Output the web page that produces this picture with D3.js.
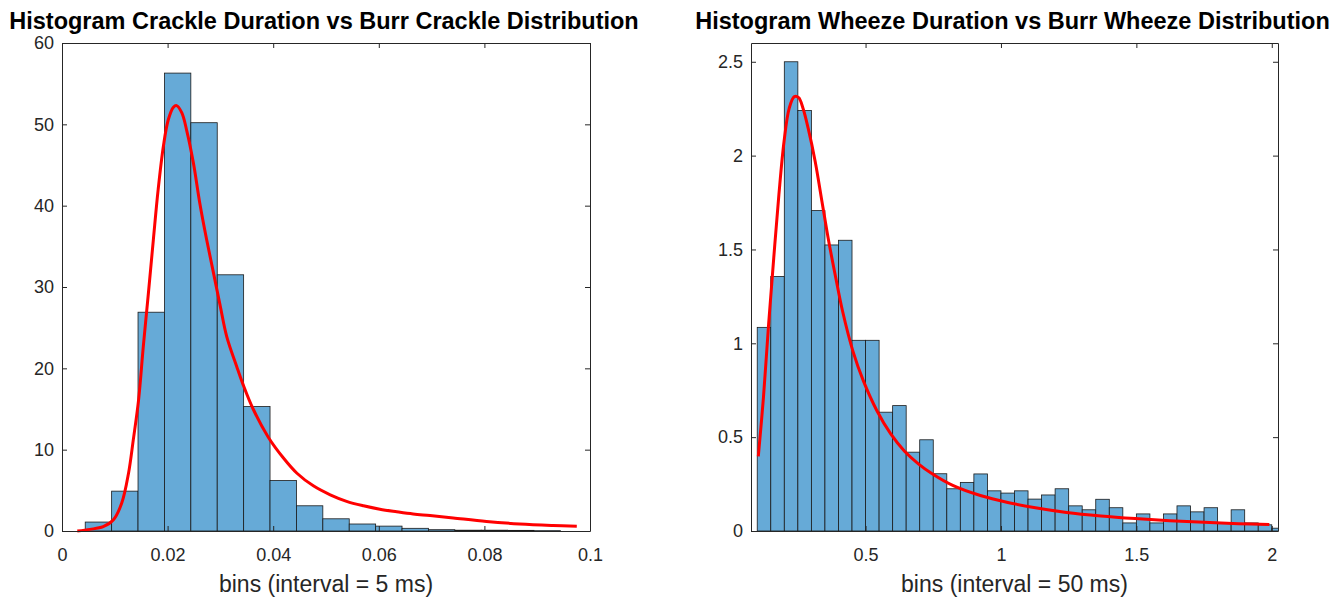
<!DOCTYPE html>
<html>
<head>
<meta charset="utf-8">
<script src="https://cdn.jsdelivr.net/npm/d3@7"></script>
<style>
  body { margin: 0; background: #fff; }
  svg { font-family: "Liberation Sans", Arial, Helvetica, sans-serif; }
</style>
</head>
<body>
<svg id="chart" width="1333" height="597"></svg>
<script>
// ---- crackle histogram (bin width 5 ms, first edge read at ~0.0044 s)
var crackleStart = 0.0044;
var crackleWidth = 0.005;
var crackleHeights = [1.1, 4.9, 26.9, 56.3, 50.2, 31.5, 15.3, 6.2, 3.1, 1.5, 0.86, 0.6, 0.33, 0.16, 0.1, 0.1, 0.08, 0.04];

// fitted Burr curve
var crackleCurveX = [0.0029, 0.0053, 0.0078, 0.0097, 0.0113, 0.0126, 0.0135, 0.0145, 0.0154, 0.0163, 0.0173, 0.0182, 0.0192, 0.0201, 0.0211, 0.0217, 0.0227, 0.0236, 0.0249, 0.0261, 0.0274, 0.0287, 0.0299, 0.0312, 0.0331, 0.0343, 0.0362, 0.0391, 0.0419, 0.0445, 0.0476, 0.0508, 0.0539, 0.0571, 0.0602, 0.0634, 0.0665, 0.0697, 0.0741, 0.0804, 0.0867, 0.0930, 0.0975];
var crackleCurveY = [0, 0.2, 0.53, 1.35, 3.4, 7.1, 11.2, 16.1, 22.7, 28.8, 35.8, 41.9, 47.3, 50.5, 52.1, 52.3, 51.4, 49.3, 45.2, 40.3, 35.8, 31.7, 27.9, 23.9, 20.2, 18.0, 15.0, 11.5, 9.0, 7.1, 5.55, 4.45, 3.65, 3.1, 2.68, 2.37, 2.1, 1.9, 1.6, 1.17, 0.87, 0.68, 0.58];
var crackleXTicks = [0, 0.02, 0.04, 0.06, 0.08, 0.1];
var crackleYTicks = [0, 10, 20, 30, 40, 50, 60];

// ---- wheeze histogram (bin width 50 ms, from 0.1 s)
var wheezeStart = 0.1;
var wheezeWidth = 0.05;
var wheezeHeights = [1.085, 1.356, 2.5, 2.24, 1.707, 1.524, 1.549, 1.016, 1.016, 0.633, 0.668, 0.42, 0.486, 0.305, 0.225, 0.259, 0.304, 0.214, 0.202, 0.214, 0.17, 0.192, 0.225, 0.134, 0.113, 0.169, 0.124, 0.043, 0.091, 0.043, 0.091, 0.134, 0.102, 0.124, 0.043, 0.113, 0.043, 0.033, 0.015];

var wheezeCurveX = [0.104, 0.123, 0.142, 0.161, 0.180, 0.199, 0.218, 0.237, 0.253, 0.269, 0.288, 0.314, 0.339, 0.364, 0.390, 0.415, 0.453, 0.492, 0.542, 0.593, 0.644, 0.695, 0.746, 0.822, 0.924, 1.025, 1.127, 1.242, 1.369, 1.496, 1.623, 1.750, 1.877, 1.991];
var wheezeCurveY = [0.397, 0.712, 1.101, 1.455, 1.792, 2.075, 2.252, 2.314, 2.309, 2.252, 2.146, 1.969, 1.756, 1.544, 1.349, 1.172, 0.96, 0.80, 0.641, 0.517, 0.425, 0.358, 0.305, 0.243, 0.189, 0.152, 0.124, 0.099, 0.080, 0.066, 0.055, 0.046, 0.039, 0.035];
var wheezeXTicks = [0.5, 1, 1.5, 2];
var wheezeYTicks = [0, 0.5, 1, 1.5, 2, 2.5];

var svg = d3.select("#chart");
var axisColor = "#262626";
var barFill = "#66aad7";

function drawPanel(opt) {
    var x = d3.scaleLinear().domain(opt.xDomain).range([opt.left, opt.right]);
    var y = d3.scaleLinear().domain(opt.yDomain).range([opt.bottom, opt.top]);

    var g = svg.append("g");
    var clipId = "clip" + opt.id;
    g.append("clipPath").attr("id", clipId)
      .append("rect")
        .attr("x", opt.left).attr("y", opt.top - 2)
        .attr("width", opt.right - opt.left).attr("height", opt.bottom - opt.top + 4);

    var bars = opt.heights.map(function (h, i) {
        return { x0: opt.start + i * opt.width, x1: opt.start + (i + 1) * opt.width, h: h };
    });

    g.append("g").attr("clip-path", "url(#" + clipId + ")")
      .selectAll("rect").data(bars).enter().append("rect")
        .attr("x", function (d) { return x(d.x0); })
        .attr("y", function (d) { return y(d.h); })
        .attr("width", function (d) { return x(d.x1) - x(d.x0); })
        .attr("height", function (d) { return y(0) - y(d.h); })
        .attr("fill", barFill)
        .attr("stroke", "#1a1a1a")
        .attr("stroke-width", 0.8);

    var pts = opt.curveX.map(function (v, i) { return [v, opt.curveY[i]]; });
    var line = d3.line()
        .curve(d3.curveCatmullRom)
        .x(function (d) { return x(d[0]); })
        .y(function (d) { return y(d[1]); });
    g.append("path").datum(pts)
        .attr("d", line)
        .attr("fill", "none")
        .attr("stroke", "#ff0000")
        .attr("stroke-width", 3);

    // axes, ticks pointing inwards like the original
    var bottom = g.append("g").attr("transform", "translate(0," + opt.bottom + ")")
        .call(d3.axisBottom(x).tickValues(opt.xTicks).tickSize(-5).tickPadding(17).tickSizeOuter(0)
            .tickFormat(function (d) { return String(d); }));
    var top = g.append("g").attr("transform", "translate(0," + opt.top + ")")
        .call(d3.axisTop(x).tickValues(opt.xTicks).tickSize(-5).tickSizeOuter(0).tickFormat(""));
    var leftAx = g.append("g").attr("transform", "translate(" + opt.left + ",0)")
        .call(d3.axisLeft(y).tickValues(opt.yTicks).tickSize(-5).tickPadding(8).tickSizeOuter(0)
            .tickFormat(function (d) { return String(d); }));
    var rightAx = g.append("g").attr("transform", "translate(" + opt.right + ",0)")
        .call(d3.axisRight(y).tickValues(opt.yTicks).tickSize(-5).tickSizeOuter(0).tickFormat(""));

    [bottom, top, leftAx, rightAx].forEach(function (a) {
        a.select(".domain").attr("stroke", axisColor).attr("stroke-width", 1);
        a.selectAll(".tick line").attr("stroke", axisColor);
        a.selectAll(".tick text").attr("fill", axisColor)
            .style("font-size", "18px");
    });

    g.append("text")
        .attr("x", (opt.left + opt.right) / 2 - 2)
        .attr("y", 29)
        .attr("text-anchor", "middle")
        .style("font-size", "23.5px")
        .style("font-weight", "bold")
        .attr("fill", "#000")
        .text(opt.title);

    g.append("text")
        .attr("x", (opt.left + opt.right) / 2)
        .attr("y", 592)
        .attr("text-anchor", "middle")
        .style("font-size", "23px")
        .attr("fill", axisColor)
        .text(opt.xlabel);
}

drawPanel({
    id: "A", left: 62, right: 590, top: 43, bottom: 531,
    xDomain: [0, 0.1], yDomain: [0, 60],
    start: crackleStart, width: crackleWidth, heights: crackleHeights,
    curveX: crackleCurveX, curveY: crackleCurveY,
    xTicks: crackleXTicks, yTicks: crackleYTicks,
    title: "Histogram Crackle Duration vs Burr Crackle Distribution",
    xlabel: "bins (interval = 5 ms)"
});

drawPanel({
    id: "B", left: 751, right: 1278, top: 43, bottom: 531,
    xDomain: [0.077, 2.023], yDomain: [0, 2.6],
    start: wheezeStart, width: wheezeWidth, heights: wheezeHeights,
    curveX: wheezeCurveX, curveY: wheezeCurveY,
    xTicks: wheezeXTicks, yTicks: wheezeYTicks,
    title: "Histogram Wheeze Duration vs Burr Wheeze Distribution",
    xlabel: "bins (interval = 50 ms)"
});
</script>
</body>
</html>
